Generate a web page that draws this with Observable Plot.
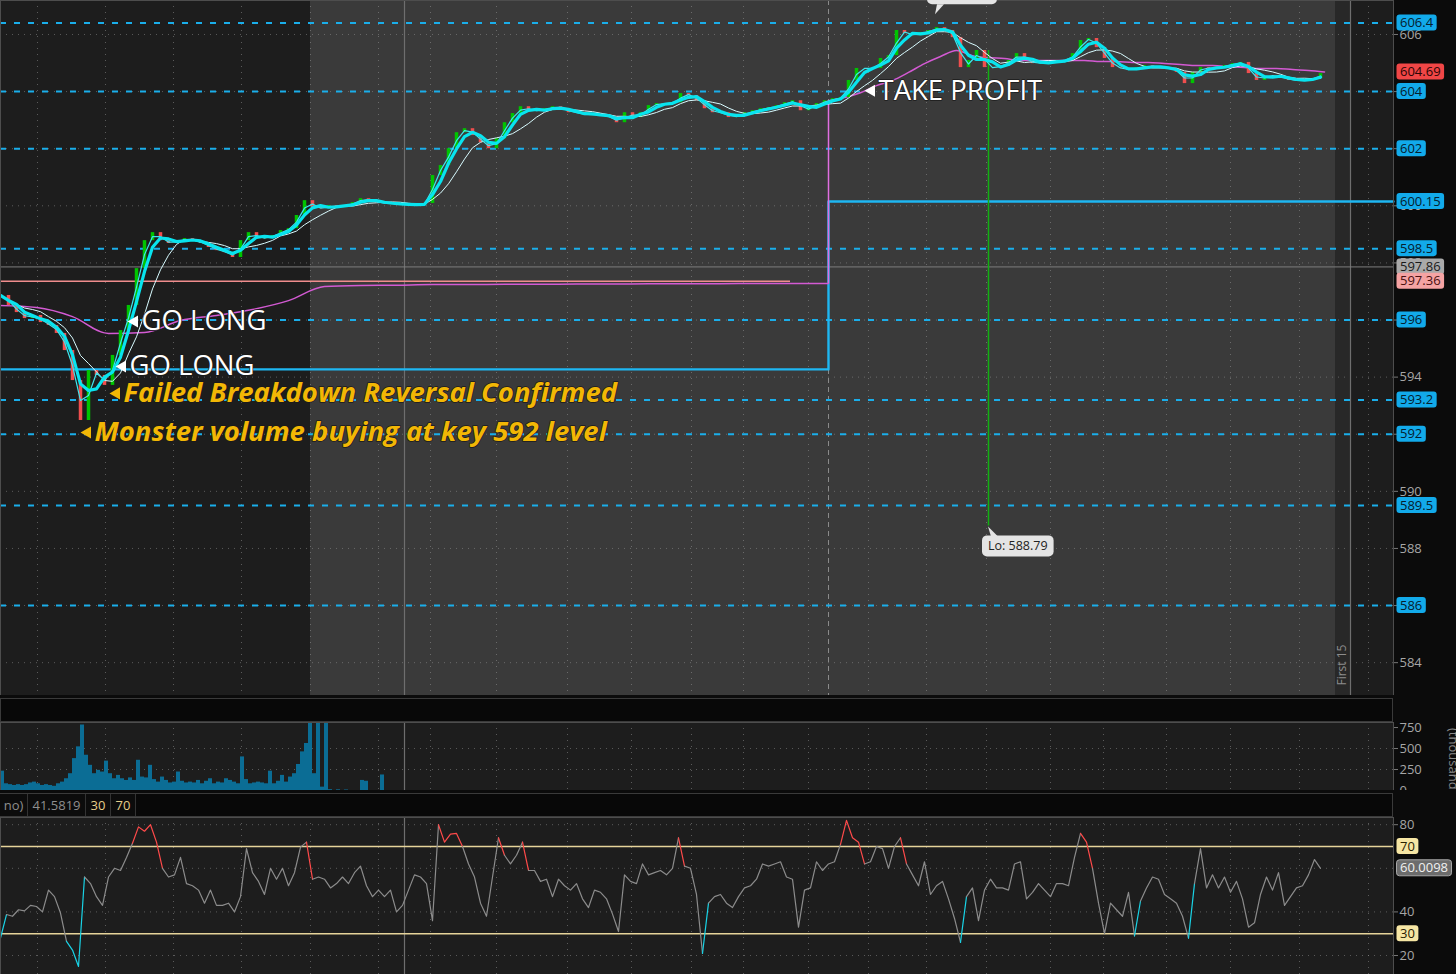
<!DOCTYPE html>
<html>
<head>
<meta charset="utf-8">
<script src="https://cdn.jsdelivr.net/npm/d3@7"></script>
<script src="https://cdn.jsdelivr.net/npm/@observablehq/plot@0.6"></script>
<style>
  html, body { margin:0; padding:0; background:#0b0b0b; overflow:hidden; }
  #wrap { position:relative; width:1456px; height:974px; background:#0b0b0b; font-family:"Open Sans", sans-serif; overflow:hidden; }
  .pane { position:absolute; left:0; }
  .pane svg { display:block; }
  .hdr { position:absolute; left:0; width:1393px; background:#080808; border:1px solid #3a3a3a; box-sizing:border-box; }
  .chip { position:absolute; top:0; height:22px; line-height:22px; font-size:13px; box-sizing:border-box; border-right:1px solid #333; text-align:center; color:#8e8e8e; background:#0c0c0c; }
  .chip.lvl { color:#e6cf8a; }
</style>
</head>
<body>
<div id="wrap">
  <div class="pane" id="pricePane" style="top:0"></div>
  <div class="hdr" style="top:698px;height:24px"></div>
  <div class="pane" id="volPane" style="top:722px"></div>
  <div class="hdr" id="rsiHdr" style="top:793px;height:24px"></div>
  <div class="pane" id="rsiPane" style="top:817px"></div>
</div>
<script>
// ================= DATA =================
// time axis: minutes since chart start
const xDomain = [0, 696.5];
const barStep = 4;   // minutes per price bar
const volStep = 2;   // minutes per volume bar
const rsiStep = 3;   // minutes per RSI sample

const closes = [
  596.86,596.51,596.26,596.05,596.16,595.91,595.81,595.53,594.93,593.88,
  592.48,594.23,594.06,593.71,594.76,595.63,596.51,597.80,598.78,599.06,
  598.78,598.68,598.78,598.85,598.78,598.68,598.54,598.43,598.36,598.19,
  598.78,599.06,598.85,598.89,598.96,599.13,599.20,599.66,600.18,599.94,
  599.90,600.01,599.97,600.01,600.11,600.25,600.18,600.11,600.08,600.08,
  600.04,600.04,600.04,600.08,601.06,601.41,602.00,602.56,602.70,602.46,
  602.21,602.00,602.35,602.91,603.23,603.47,603.33,603.33,603.40,603.47,
  603.40,603.26,603.26,603.16,603.23,603.16,603.09,602.91,603.26,603.09,
  603.26,603.51,603.58,603.58,603.61,603.93,603.86,603.68,603.40,603.26,
  603.26,603.09,603.16,603.26,603.33,603.40,603.44,603.51,603.61,603.68,
  603.33,603.44,603.58,603.68,603.75,603.79,604.39,604.81,604.81,604.81,
  605.16,605.26,606.14,606.03,605.96,606.07,606.14,606.24,606.14,605.89,
  604.84,605.09,605.44,604.84,604.84,604.91,605.09,605.33,605.09,604.98,
  605.02,605.02,605.09,605.09,605.33,605.79,605.86,605.54,605.16,604.84,
  604.81,604.74,604.84,604.91,604.84,604.84,604.81,604.67,604.28,604.67,
  604.84,604.81,604.84,604.91,604.98,605.02,604.63,604.39,604.56,604.56,
  604.49,604.39,604.39,604.42,604.46,
  604.63
];

const vwapPreStep = 18;
const vwapPre = [596.51,596.44,596.12,595.53,595.56,595.98,596.16,596.37,596.68,597.17,
  597.21,597.22,597.24,597.24,597.25,597.25,597.26,597.26,597.27,597.27,597.27,597.28,597.28,597.28];
const sessionOpen = 414;
const vwapDayStep = 8;
const vwapDay = [603.68,603.79,603.96,604.21,604.39,604.67,604.98,605.23,605.44,605.26,
  605.19,605.16,605.09,605.09,605.09,605.09,605.09,605.05,605.05,605.02,
  605.02,604.98,604.95,604.91,604.91,604.88,604.84,604.81,604.81,604.77,604.74,604.69];

const volumes = [
  230,80,70,60,70,60,70,90,100,80,
  60,70,60,50,80,100,140,200,380,520,
  780,420,300,200,240,220,350,200,140,180,
  140,120,150,120,360,160,150,300,130,100,
  160,120,90,100,220,110,90,100,90,120,
  80,110,140,80,100,90,140,120,100,80,
  400,130,80,90,100,90,80,230,80,110,
  180,100,160,200,310,460,560,1000,200,1000,
  40,1000,10,0,8,0,6,0,0,0,
  120,110,0,0,0,185,0
];

const rsiValues = [
  28,38.8,38,41,40.5,43,42.5,40,50,47,
  39.5,26.5,22.5,15,56,53,47,43,56,60,
  59,65,71.5,79,77,80,72,60,56,57,
  65,53,52,50,44,50,43,43,44,40,
  47,69,58,54,48,60,55,60,52,58,
  69.7,72,55,56,55,51,53,56,53,58,
  61,52,47,50,47,50,40,43,50,57,
  56,53,36,80,72,75.7,76,70,62,56,
  44,38,56,74,66,62,66,72,59,59,
  54,55,47,55,52,50,53,46,42,50,
  49,46,39,31,57,54,53,62,57,58,
  59,57,60,74,61,60,48,21,44,47,
  48,44,42,47,51,52,55,62,61,62,
  63,56,55,33,50,51,63,59,62,63,
  71,82,74,72,62,63,70,69,60,70,
  74,62,57,52,63,48,52,54,46,37,
  26,47,51,36,50,55,51,51,50,62,
  63,46,49,53,50,47,53,53,52,65,
  76,72,60,44,30,44,41,38,49,29,
  45,51,56,55,48,46,44,38,28,53,
  69,51,57,51,56,49,54,46,33,35,
  48,56,50,58,43,47,51,52,57,64,
  60
];
const rsiLast = 60.0098;
const rsiHeaderValue = 41.5819;
const rsiOversold = 30, rsiOverbought = 70;

const priceDomain = [582.85, 607.19];
const priceTicks = [584,586,588,590,592,594,596,598,600,602,604,606];
const dashedLevels = [606.4, 604, 602, 598.5, 596, 593.2, 592, 589.5, 586];
const stepTimes = [0, 414, 696.5];
const stepValues = [594.27, 600.15, 600.15];
const vwapLast = 604.69;
const priorLevel = 597.86;
const pinkLevel = 597.36, pinkEndTime = 395;

const sessionStarts = [0, 155, 667.5, 675];
const sessionEnds   = [155, 667.5, 675, 696.5];
const sessionKinds  = ["ext", "regular", "open15", "ext"];
const gridTimes = [18.5,52.5,86.5,120.5,155,189,215,248,283.5,315.5,345.5,371.5,404,434,463,493,525,551.5,583,615,649.5,684];
const solidMarkers = [202, 675];
const dashedMarkers = [414];

const noteLabels = ["GO LONG","GO LONG","Failed Breakdown Reversal Confirmed","Monster volume buying at key 592 level","TAKE PROFIT"];
const noteTimes  = [70, 64, 61, 46.5, 438.5];
const notePrices = [595.95, 594.37, 593.43, 592.06, 604.03];
const noteKinds  = ["signal","signal","comment","comment","signal"];

const loPoint = {t: 494, low: 588.79, high: 605.44};
const hiPoint = {t: 467.5, high: 606.66};

const volTicks = [0, 250, 500, 750];
const volDomain = [0, 810];
const rsiDomain = [11.3, 83.3];
const rsiTicks = [20, 40, 80];
const rsiGrid = [20, 40, 60, 80];

// ================= DERIVED TABLES =================
const bars = closes.map((c, i) => ({t: i * barStep, open: i ? closes[i - 1] : c, close: c}));
const vwapPreData = vwapPre.map((v, i) => ({t: i * vwapPreStep, v}));
const vwapDayData = vwapDay.map((v, i) => ({t: sessionOpen + i * vwapDayStep, v}));
const stepData = stepTimes.map((t, i) => ({t, v: stepValues[i]}));
const sessions = sessionStarts.map((s, i) => ({start: s, end: sessionEnds[i], kind: sessionKinds[i]}));
const sessionColor = {ext: "#1d1d1d", regular: "#3a3a3a", open15: "#282828"};
const notes = noteLabels.map((label, i) => ({label, t: noteTimes[i], p: notePrices[i], kind: noteKinds[i]}));
const volData = volumes.map((v, i) => ({t: i * volStep, v}));
const rsiData = rsiValues.map((v, i) => ({t: i * rsiStep, v}));

const FONT = "Open Sans";
const W = 1456, MR = 63;
const gridStyle = {stroke: "#9a9a9a", strokeOpacity: 0.5, strokeDasharray: "1,5"};
const axisStyle = {anchor: "right", tickSize: 4, tickPadding: 2, tickFormat: d => String(d), color: "#a6a6a6", stroke: "#777", fontSize: 13, label: null};

// ================= PRICE PANEL =================
const pricePlot = Plot.plot({
  width: W, height: 695, marginLeft: 0, marginRight: MR, marginTop: 0, marginBottom: 0,
  style: {background: "#0b0b0b", color: "#a3a3a3", fontFamily: FONT, fontSize: "13px", overflow: "hidden"},
  x: {domain: xDomain, axis: null},
  y: {domain: priceDomain, axis: null},
  marks: [
    Plot.rect(sessions, {x1: "start", x2: "end", y1: priceDomain[0], y2: priceDomain[1], fill: d => sessionColor[d.kind]}),
    Plot.ruleX(gridTimes, gridStyle),
    Plot.ruleY(priceTicks, gridStyle),
    Plot.ruleX(solidMarkers, {stroke: "#6e6e6e", strokeWidth: 1.2}),
    Plot.ruleX(dashedMarkers, {stroke: "#8a8a8a", strokeDasharray: "5,4"}),
    Plot.ruleY([priorLevel], {stroke: "#7d7d7d", strokeWidth: 1}),
    Plot.ruleY([pinkLevel], {x1: 0, x2: pinkEndTime, stroke: "#f08d8d", strokeWidth: 1.4}),
    Plot.ruleY(dashedLevels, {stroke: "#1aaeea", strokeWidth: 2, strokeDasharray: "6,8"}),
    Plot.line(stepData, {x: "t", y: "v", curve: "step-after", stroke: "#1eb7f2", strokeWidth: 2.4}),
    Plot.line(vwapPreData, {x: "t", y: "v", stroke: "#d35ad3", strokeWidth: 1.5, curve: "monotone-x"}),
    Plot.ruleX([{t: sessionOpen, a: vwapPre[vwapPre.length - 1], b: vwapDay[0]}], {x: "t", y1: "a", y2: "b", stroke: "#e06ee0", strokeWidth: 1.5}),
    Plot.line(vwapDayData, {x: "t", y: "v", stroke: "#d35ad3", strokeWidth: 1.5, curve: "monotone-x"}),
    Plot.ruleX(bars, {x: "t", y1: "open", y2: "close", stroke: d => d.close >= d.open ? "#00c400" : "#f04e4e", strokeWidth: 3.5}),
    Plot.ruleX([loPoint], {x: "t", y1: "low", y2: "high", stroke: "#12b012", strokeWidth: 1.5}),
    Plot.lineY(bars, Plot.windowY({k: 6, anchor: "end"}, {x: "t", y: "close", stroke: "#d8fbff", strokeWidth: 1})),
    Plot.lineY(bars, Plot.windowY({k: 2, anchor: "end"}, {x: "t", y: "close", stroke: "#3fe6ee", strokeWidth: 1.2})),
    Plot.lineY(bars, Plot.windowY({k: 3, anchor: "end"}, {x: "t", y: "close", stroke: "#08e4ef", strokeWidth: 3.2})),
    Plot.dot(notes, {x: "t", y: "p", symbol: "triangle", rotate: -90, r: 4.5, dx: -6, fill: d => d.kind === "signal" ? "#ffffff" : "#f2b705", stroke: null}),
    Plot.text(notes.filter(d => d.kind === "signal"), {x: "t", y: "p", text: "label", textAnchor: "start", lineAnchor: "middle", dx: 1, fontSize: 27.5, fill: "#ffffff", stroke: "#1a1a1a", strokeWidth: 1.5, paintOrder: "stroke", fontFamily: FONT}),
    Plot.text(notes.filter(d => d.kind === "comment"), {x: "t", y: "p", text: "label", textAnchor: "start", lineAnchor: "middle", dx: 1, fontSize: 27.5, fontWeight: "bold", fontStyle: "italic", fill: "#f2b705", stroke: "#1a1a1a", strokeWidth: 1.5, paintOrder: "stroke", fontFamily: FONT}),
    Plot.text([sessions[2]], {x: d => d.start + 3.5, y: priceDomain[0] + 0.35, text: () => "First 15", rotate: -90, textAnchor: "start", fontSize: 12, fill: "#8c8c8c", fontFamily: FONT}),
    Plot.frame({stroke: "#4d4d4d"}),
    Plot.axisY({...axisStyle, ticks: priceTicks})
  ]
});
document.getElementById("pricePane").appendChild(pricePlot);

function linScale(plot, name) {
  const s = plot.scale(name);
  return d3.scaleLinear(s.domain, s.range);
}

function addTags(svg, yS, tags) {
  const g = d3.select(svg).append("g").attr("font-family", FONT).attr("font-size", 13).attr("text-anchor", "start");
  tags.forEach(tag => {
    const y = yS(tag.value);
    const rect = g.append("rect").attr("x", 1396.5).attr("y", y - 8).attr("height", 16).attr("rx", 3)
      .attr("fill", tag.fill).attr("stroke", tag.stroke || "none");
    const text = g.append("text").attr("x", 1400).attr("y", y).attr("dy", "0.36em").attr("text-anchor", "start").attr("fill", tag.color).text(String(tag.value));
    const w = text.node().getComputedTextLength();
    rect.attr("width", w + 7);
  });
}

const pxS = linScale(pricePlot, "x"), pyS = linScale(pricePlot, "y");
const cyanTag = {fill: "#12aaea", color: "#05202e"};
addTags(pricePlot, pyS, [
  ...dashedLevels.map(v => ({value: v, ...cyanTag})),
  {value: stepValues[2], ...cyanTag},
  {value: vwapLast, fill: "#f04646", color: "#2b0505"},
  {value: priorLevel, fill: "#a9a9a9", color: "#1a1a1a"},
  {value: pinkLevel, fill: "#f5a3a3", color: "#4a1010"}
]);

// callouts for session low / high
(function callouts() {
  const g = d3.select(pricePlot).append("g").attr("font-family", FONT).attr("font-size", 12.5).attr("text-anchor", "start");
  const lx = pxS(loPoint.t), ly = pyS(loPoint.low);
  g.append("path").attr("d", `M${lx},${ly + 1}L${lx + 3},${ly + 11}L${lx + 10},${ly + 11}Z`).attr("fill", "#e4e4e4");
  const lr = g.append("rect").attr("x", lx - 6).attr("y", ly + 10).attr("height", 21).attr("rx", 5).attr("fill", "#e4e4e4");
  const lt = g.append("text").attr("x", lx).attr("y", ly + 20.5).attr("dy", "0.36em").attr("fill", "#222").text("Lo: " + loPoint.low);
  lr.attr("width", lt.node().getComputedTextLength() + 12);
  const hx = pxS(hiPoint.t), hy = pyS(hiPoint.high);
  g.append("path").attr("d", `M${hx},${hy - 1}L${hx + 2},${hy - 11}L${hx + 9},${hy - 11}Z`).attr("fill", "#e4e4e4");
  const hr = g.append("rect").attr("x", hx - 8).attr("y", hy - 32).attr("height", 21).attr("rx", 5).attr("fill", "#e4e4e4");
  const ht = g.append("text").attr("x", hx - 2).attr("y", hy - 21.5).attr("dy", "0.36em").attr("fill", "#222").text("Hi: " + hiPoint.high);
  hr.attr("width", ht.node().getComputedTextLength() + 12);
})();

// ================= VOLUME PANEL =================
const volPlot = Plot.plot({
  width: W, height: 68, marginLeft: 0, marginRight: MR, marginTop: 0, marginBottom: 0,
  style: {background: "#0b0b0b", color: "#a3a3a3", fontFamily: FONT, fontSize: "13px", overflow: "hidden"},
  x: {domain: xDomain, axis: null},
  y: {domain: volDomain, axis: null},
  marks: [
    Plot.rect([0], {x1: xDomain[0], x2: xDomain[1], y1: volDomain[0], y2: volDomain[1], fill: "#1d1d1d"}),
    Plot.ruleX(gridTimes, gridStyle),
    Plot.ruleY([250, 500], gridStyle),
    Plot.ruleX([solidMarkers[0]], {stroke: "#6e6e6e", strokeWidth: 1.2}),
    Plot.rectY(volData, {x1: "t", x2: d => d.t + volStep, y: "v", fill: "#0b6d95", clip: true}),
    Plot.frame({stroke: "#4d4d4d"}),
    Plot.axisY({...axisStyle, ticks: volTicks})
  ]
});
document.getElementById("volPane").appendChild(volPlot);
d3.select(volPlot).append("text").attr("transform", "translate(1449,6) rotate(90)").attr("text-anchor", "start")
  .attr("font-family", FONT).attr("font-size", 13).attr("fill", "#8a8a8a").text("(thousands)");

// ================= RSI HEADER =================
(function header() {
  const hdr = document.getElementById("rsiHdr");
  const chips = [
    {text: "no)", left: -1, width: 28, cls: ""},
    {text: String(rsiHeaderValue), left: 27, width: 58, cls: ""},
    {text: String(rsiOversold), left: 85, width: 25, cls: "lvl"},
    {text: String(rsiOverbought), left: 110, width: 25, cls: "lvl"}
  ];
  chips.forEach(c => {
    const d = document.createElement("div");
    d.className = "chip " + c.cls;
    d.style.left = c.left + "px";
    d.style.width = c.width + "px";
    d.textContent = c.text;
    hdr.appendChild(d);
  });
})();

// ================= RSI PANEL =================
const rsiColor = v => v > rsiOverbought ? "#ff4a4a" : v < rsiOversold ? "#19d3e6" : "#8c8c8c";
const rsiPlot = Plot.plot({
  width: W, height: 157, marginLeft: 0, marginRight: MR, marginTop: 0, marginBottom: 0,
  style: {background: "#0b0b0b", color: "#a3a3a3", fontFamily: FONT, fontSize: "13px", overflow: "hidden"},
  x: {domain: xDomain, axis: null},
  y: {domain: rsiDomain, axis: null},
  marks: [
    Plot.rect([0], {x1: xDomain[0], x2: xDomain[1], y1: rsiDomain[0], y2: rsiDomain[1], fill: "#1d1d1d"}),
    Plot.ruleX(gridTimes, gridStyle),
    Plot.ruleY(rsiGrid, gridStyle),
    Plot.ruleX([solidMarkers[0]], {stroke: "#6e6e6e", strokeWidth: 1.2}),
    Plot.ruleY([rsiOverbought, rsiOversold], {stroke: "#e6d49a", strokeWidth: 1.6}),
    Plot.line(rsiData, {x: "t", y: "v", z: null, stroke: d => rsiColor(d.v), strokeWidth: 1.2}),
    Plot.frame({stroke: "#4d4d4d"}),
    Plot.axisY({...axisStyle, ticks: rsiTicks})
  ]
});
document.getElementById("rsiPane").appendChild(rsiPlot);
const ryS = linScale(rsiPlot, "y");
addTags(rsiPlot, ryS, [
  {value: rsiOverbought, fill: "#f6e6a4", color: "#2a2000"},
  {value: rsiOversold, fill: "#f6e6a4", color: "#2a2000"},
  {value: rsiLast, fill: "#6c6c6c", color: "#f0f0f0", stroke: "#a8a8a8"}
]);
</script>
</body>
</html>
